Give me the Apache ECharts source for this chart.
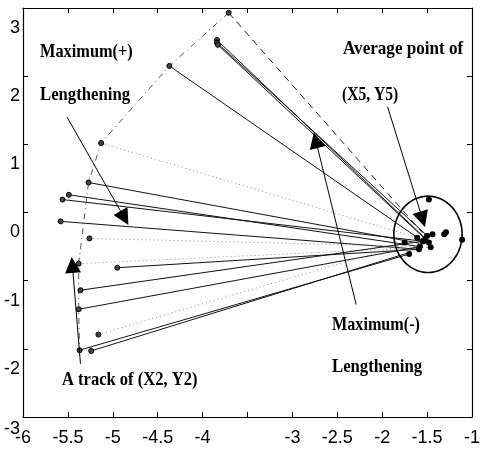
<!DOCTYPE html>
<html>
<head>
<meta charset="utf-8">
<script src="https://cdn.jsdelivr.net/npm/echarts@6/dist/echarts.min.js"></script>
<style>
html,body{margin:0;padding:0;background:#fff;}
#c{width:483px;height:458px;}
</style>
</head>
<body>
<div id="c"></div>
<script>
// ---- data ----
const xTickLabels = ['-6','-5.5','-5','-4.5','-4','','-3','-2.5','-2','-1.5','-1'];
const yTickLabels = ['-3','-2','-1','0','1','2','3'];

// track points (X2, Y2)
const trackX = [-3.71,-3.84,-3.84,-3.83,-4.37,-5.13,-5.27,-5.49,-5.56,-5.58,-5.26,-5.38,-4.95,-5.36,-5.38,-5.16,-5.37,-5.24];
const trackY = [2.93,2.53,2.49,2.46,2.15,1.02,0.44,0.26,0.19,-0.13,-0.38,-0.75,-0.81,-1.14,-1.42,-1.79,-2.02,-2.03];
// where each line from a track point ends (in the cluster)
const endX = [-1.55,-1.52,-1.50,-1.48,-1.55,-1.61,-1.59,-1.58,-1.55,-1.59,-1.58,-1.46,-1.59,-1.54,-1.58,-1.52,-1.70,-1.68];
const endY = [-0.30,-0.38,-0.34,-0.44,-0.42,-0.37,-0.45,-0.50,-0.42,-0.54,-0.50,-0.51,-0.54,-0.42,-0.50,-0.38,-0.61,-0.58];
const lineKind = ['dashed','solid','solid','solid','solid','dotted','solid','solid','solid','solid','dotted','dotted','solid','solid','solid','dotted','solid','solid'];
// order of track points along the dash-dot track
const arcIdx = [0,4,5,6,11,14,16];

// (X5, Y5) points
const clusterX = [-1.48,-1.44,-1.31,-1.29,-1.11,-1.52,-1.55,-1.48,-1.75,-1.59,-1.46,-1.70,-1.58,-1.54,-1.61,-1.50];
const clusterY = [0.19,-0.32,-0.32,-0.29,-0.40,-0.38,-0.42,-0.44,-0.44,-0.54,-0.51,-0.61,-0.50,-0.42,-0.37,-0.34];

// average region ellipse
const ellCenter = [-1.49,-0.32];
const ellRadius = [0.38,0.56];

// annotation arrows: tail -> head
const arrowTail = [[-5.51,1.40],[-1.94,1.55],[-2.29,-1.35],[-5.36,-2.22]];
const arrowHead = [[-4.87,-0.08],[-1.55,-0.10],[-2.74,1.06],[-5.45,-0.77]];

// ---- build ----
const styleOf = {
  solid: {color:'#111', width:1, type:'solid', opacity:1},
  dotted:{color:'#8a8a8a', width:1, type:[1,3], opacity:1},
  dashed:{color:'#222', width:1, type:[7,5], opacity:1}
};
const linkData = trackX.map((x,i)=>({coords:[[x,trackY[i]],[endX[i],endY[i]]], lineStyle:styleOf[lineKind[i]]}));
const arcData = arcIdx.map(i=>[trackX[i],trackY[i]]);
const ellData = [];
for(let k=0;k<=96;k++){
  const t = k/96*2*Math.PI;
  ellData.push([ellCenter[0]+ellRadius[0]*Math.cos(t), ellCenter[1]+ellRadius[1]*Math.sin(t)]);
}
const arrowData = arrowTail.map((t,i)=>({coords:[t,arrowHead[i]]}));

const labelFont = 'Liberation Sans';
const axisCommon = {
  axisLine:{show:true,onZero:false,lineStyle:{color:'#000',width:1.2}},
  axisTick:{show:true,inside:true,length:5,lineStyle:{color:'#000',width:1}},
  splitLine:{show:false}
};

const chart = echarts.init(document.getElementById('c'), null, {renderer:'canvas'});
const textEl = (txt, x, y, sx) => ({
  type:'text', x:x, y:y, scaleX:sx, scaleY:1, silent:true,
  style:{text:txt, font:'bold 19px "Liberation Serif"', fill:'#000', verticalAlign:'middle', textVerticalAlign:'middle', align:'left'}
});
chart.setOption({
  animation:false,
  grid:{left:23,right:8,top:8,bottom:41,containLabel:false},
  xAxis:[
    Object.assign({type:'value',min:-6,max:-1,interval:0.5,position:'bottom',
      axisLabel:{show:true,margin:12,fontSize:18,fontFamily:labelFont,color:'#000',interval:0,showMinLabel:true,showMaxLabel:true,
        formatter:v=>xTickLabels[Math.round((v+6)/0.5)]}}, axisCommon),
    Object.assign({type:'value',min:-6,max:-1,interval:0.5,position:'top',axisLabel:{show:false}}, axisCommon)
  ],
  yAxis:[
    Object.assign({type:'value',min:-3,max:3,interval:1,position:'left',
      axisLabel:{show:true,margin:3,color:'#000',showMinLabel:true,showMaxLabel:true,
        formatter:v=>{const s=yTickLabels[Math.round(v+3)]; return v===-3?'{low|'+s+'}':'{n|'+s+'}';},
        rich:{n:{fontSize:18,fontFamily:labelFont,color:'#000',padding:[40,0,0,0]},
              low:{fontSize:18,fontFamily:labelFont,color:'#000',padding:[24,0,0,0]}}}}, axisCommon),
    Object.assign({type:'value',min:-3,max:3,interval:1,position:'right',axisLabel:{show:false}}, axisCommon)
  ],
  series:[
    {type:'lines',coordinateSystem:'cartesian2d',polyline:false,data:linkData,symbol:'none',z:2,silent:true,
      lineStyle:{opacity:1}},
    {type:'line',data:arcData,showSymbol:false,symbol:'none',lineStyle:{color:'#555',width:1,type:[6,4,1,4]},z:2,silent:true},
    {type:'line',data:ellData,showSymbol:false,symbol:'none',smooth:false,lineStyle:{color:'#000',width:1.6},z:3,silent:true},
    {type:'scatter',data:trackX.map((x,i)=>[x,trackY[i]]),symbol:'circle',symbolSize:5,
      itemStyle:{color:'#444',borderColor:'#000',borderWidth:1,opacity:1},z:4,silent:true},
    {type:'scatter',data:clusterX.map((x,i)=>[x,clusterY[i]]),symbol:'circle',symbolSize:6,
      itemStyle:{color:'#000',opacity:1},z:4,silent:true},
    {type:'lines',coordinateSystem:'cartesian2d',data:arrowData,symbol:['none','triangle'],symbolSize:[9,16],
      lineStyle:{color:'#000',width:1,type:'solid',opacity:1},z:5,silent:true}
  ],
  graphic:[
    textEl('Maximum(+)',40,52,0.86),
    textEl('Lengthening',40,95,0.88),
    textEl('Average point of',343,49,0.9),
    textEl('(X5, Y5)',342,95,0.82),
    textEl('Maximum(-)',332,325,0.85),
    textEl('Lengthening',332,367,0.88),
    textEl('A track of (X2, Y2)',62,380,0.87)
  ]
});
</script>
</body>
</html>
